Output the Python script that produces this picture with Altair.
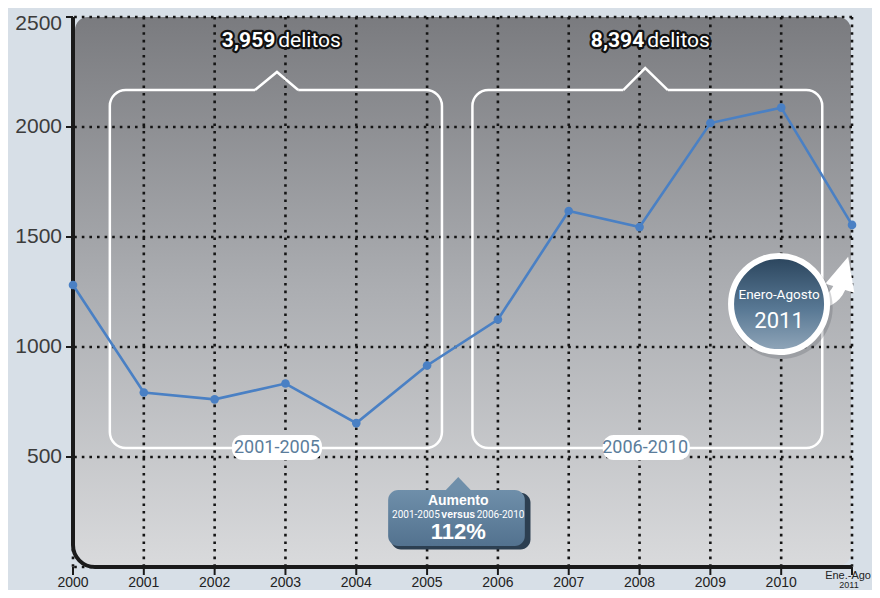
import altair as alt
import pandas as pd

# ---------------- data ----------------
years = [2000, 2001, 2002, 2003, 2004, 2005, 2006, 2007, 2008, 2009, 2010, 2011]
values = [1282, 793, 762, 834, 654, 916, 1125, 1618, 1545, 2018, 2088, 1555]
x_ticks = [2000, 2001, 2002, 2003, 2004, 2005, 2006, 2007, 2008, 2009, 2010, 2011]
x_labels = ["2000", "2001", "2002", "2003", "2004", "2005", "2006", "2007", "2008", "2009", "2010"]
last_label = ["Ene.-Ago", "2011"]
y_ticks = [500, 1000, 1500, 2000, 2500]
y_labels = ["500", "1000", "1500", "2000", "2500"]
grid_y = [0, 500, 1000, 1500, 2000, 2500]

# bracket annotations (data units)
br_x1 = [2000.52, 2005.64]
br_x2 = [2005.21, 2010.58]
br_top = [2168, 2168]
br_bot = [541, 541]
chev_left = [2002.57, 2007.77]
chev_peak_x = [2002.88, 2008.08]
chev_peak_y = [2250, 2268]
chev_right = [2003.18, 2008.40]
totals = ["3,959", "8,394"]
total_word = ["delitos", "delitos"]
period_labels = ["2001-2005", "2006-2010"]
lab_x1 = [2002.245, 2007.48]
lab_x2 = [2003.516, 2008.71]

W, H = 779, 550
XD = [2000, 2011]
YD = [0, 2500]
R_BR = 16


def px(v):
    return (v - XD[0]) / (XD[1] - XD[0]) * W


xs = alt.Scale(domain=XD, nice=False, zero=False)
ys = alt.Scale(domain=YD, nice=False, zero=False)

one = pd.DataFrame({"a": [0]})
bg = "#d7dfe7"
cond = "Roboto, Liberation Sans, sans-serif"
axis_font = "Liberation Sans, Arial, sans-serif"


def XQ(f):
    return alt.X(f, scale=xs, axis=None)


def YQ(f):
    return alt.Y(f, scale=ys, axis=None)


# ---------------- panel ----------------
panel_grad = {
    "gradient": "linear",
    "x1": 0, "y1": 0, "x2": 0, "y2": 1,
    "stops": [
        {"offset": 0, "color": "#7a7b7f"},
        {"offset": 0.5, "color": "#acaeb2"},
        {"offset": 1, "color": "#d9dadc"},
    ],
}
panel = alt.Chart(one).mark_rect(fill=panel_grad, cornerRadius=13, cornerRadiusBottomLeft=22).encode(
    x=alt.value(2), x2=alt.value(778), y=alt.value(0), y2=alt.value(549)
)

# ---------------- grid ----------------
dot = dict(color="#141414", strokeWidth=2.6, strokeDash=[2.6, 5], strokeCap="butt")
vgrid = alt.Chart(pd.DataFrame({"g": x_ticks})).mark_rule(**dot).encode(x=XQ("g:Q"))
hgrid = alt.Chart(pd.DataFrame({"g": grid_y})).mark_rule(**dot).encode(y=YQ("g:Q"))

# frame (left + rounded corner + bottom)
frame = alt.Chart(one).mark_rect(
    fillOpacity=0, stroke="#1a1a1a", strokeWidth=4, cornerRadiusBottomLeft=22,
    strokeDash=[0, W + H, 4000]
).encode(x=alt.value(0), x2=alt.value(W), y=alt.value(0), y2=alt.value(H))

# ---------------- axes (ticks + labels) ----------------
xt_df = pd.DataFrame({"v": x_ticks})
xl_df = pd.DataFrame({"v": x_ticks[:11], "t": x_labels})
yt_df = pd.DataFrame({"v": y_ticks, "t": y_labels})
x_tick_marks = alt.Chart(xt_df).mark_rule(color="#1a1a1a", strokeWidth=2).encode(
    x=XQ("v:Q"), y=alt.value(H), y2=alt.value(H + 8)
)
y_tick_marks = alt.Chart(yt_df).mark_rule(color="#1a1a1a", strokeWidth=2).encode(
    y=YQ("v:Q"), x=alt.value(-7), x2=alt.value(0)
)
x_tick_labels = alt.Chart(xl_df).mark_text(
    font=axis_font, fontSize=14, color="#222222", baseline="bottom"
).encode(x=XQ("v:Q"), y=alt.value(H + 23), text="t:N")
y_tick_labels = alt.Chart(yt_df.iloc[0:4]).mark_text(
    font=axis_font, fontSize=21, color="#3c3c3c", align="right", baseline="middle"
).encode(y=YQ("v:Q"), x=alt.value(-11), text="t:N")
y_top_label = alt.Chart(yt_df.iloc[4:5]).mark_text(
    font=axis_font, fontSize=21, color="#3c3c3c", align="right", baseline="middle", dy=7
).encode(y=YQ("v:Q"), x=alt.value(-11), text="t:N")

last_df = pd.DataFrame({"t": last_label})
last_t1 = alt.Chart(last_df.iloc[0:1]).mark_text(
    font=axis_font, fontSize=11, color="#222222", align="right", baseline="top"
).encode(x=alt.value(W + 19), y=alt.value(H + 3), text="t:N")
last_t2 = alt.Chart(last_df.iloc[1:2]).mark_text(
    font=axis_font, fontSize=9, color="#222222", baseline="bottom"
).encode(x=alt.value(W - 3), y=alt.value(H + 23), text="t:N")

# ---------------- brackets ----------------
bracket_layers = []
for i in range(2):
    d1 = px(chev_left[i]) - px(br_x1[i]) - R_BR
    gap = px(chev_right[i]) - px(chev_left[i])
    dfb = pd.DataFrame({"x1": [br_x1[i]], "x2": [br_x2[i]], "y1": [br_top[i]], "y2": [br_bot[i]]})
    bracket_layers.append(
        alt.Chart(dfb).mark_rect(
            fillOpacity=0, stroke="white", strokeWidth=2.5, cornerRadius=R_BR,
            strokeDash=[d1, gap, 5000]
        ).encode(x=XQ("x1:Q"), x2="x2:Q", y=YQ("y1:Q"), y2="y2:Q")
    )

chev_rows = []
for i in range(2):
    chev_rows += [
        {"g": i, "o": 0, "x": chev_left[i], "y": br_top[i]},
        {"g": i, "o": 1, "x": chev_peak_x[i], "y": chev_peak_y[i]},
        {"g": i, "o": 2, "x": chev_right[i], "y": br_top[i]},
    ]
chev = alt.Chart(pd.DataFrame(chev_rows)).mark_line(color="white", strokeWidth=2.5, strokeJoin="miter").encode(
    x=XQ("x:Q"), y=YQ("y:Q"), detail="g:N", order="o:Q",
)

# period label boxes
lab_df = pd.DataFrame({
    "x1": lab_x1, "x2": lab_x2, "y1": [600, 600], "y2": [486, 486],
    "cx": chev_peak_x, "cy": [541, 541], "t": period_labels,
})
lab_box = alt.Chart(lab_df).mark_rect(fill="white", cornerRadius=11).encode(
    x=XQ("x1:Q"), x2="x2:Q", y=YQ("y1:Q"), y2="y2:Q",
)
lab_text = alt.Chart(lab_df).mark_text(font=cond, fontSize=18, color="#5b7d9b", baseline="middle").encode(
    x=XQ("cx:Q"), y=YQ("cy:Q"), text="t:N"
)

# totals headings
tot_df = pd.DataFrame({"x": [2002.87, 2008.08], "y": [2391, 2391], "n": totals, "w": total_word})
outline = dict(stroke="#111", strokeWidth=4.5, strokeJoin="round", color="#111")


def heading(field, align, weight, dx, fill_kwargs):
    return alt.Chart(tot_df).mark_text(
        font=cond, fontSize=21, fontWeight=weight, align=align, baseline="middle", dx=dx, **fill_kwargs
    ).encode(x=XQ("x:Q"), y=YQ("y:Q"), text=f"{field}:N")


heads = [
    heading("n", "right", "bold", -1, outline),
    heading("w", "left", "normal", 2, outline),
    heading("n", "right", "bold", -1, {"color": "white"}),
    heading("w", "left", "normal", 2, {"color": "white"}),
]

# ---------------- data line ----------------
df = pd.DataFrame({"year": years, "value": values})
base = alt.Chart(df).encode(x=XQ("year:Q"), y=YQ("value:Q"))
line = base.mark_line(color="#4a80c4", strokeWidth=2.6)
pts = base.mark_circle(color="#4a80c4", size=75, opacity=1)

# ---------------- "Aumento" callout ----------------
au_grad = {
    "gradient": "linear", "x1": 0, "y1": 0, "x2": 0, "y2": 1,
    "stops": [{"offset": 0, "color": "#6f8faa"}, {"offset": 1, "color": "#53728f"}],
}
au_shadow = alt.Chart(pd.DataFrame({"x1": [2004.49], "x2": [2006.46], "y1": [338], "y2": [80]})).mark_rect(
    fill="#2c3f51", cornerRadius=10
).encode(x=XQ("x1:Q"), x2="x2:Q", y=YQ("y1:Q"), y2="y2:Q")
au_box = alt.Chart(pd.DataFrame({"x1": [2004.45], "x2": [2006.38], "y1": [350], "y2": [95]})).mark_rect(
    fill=au_grad, cornerRadius=10
).encode(x=XQ("x1:Q"), x2="x2:Q", y=YQ("y1:Q"), y2="y2:Q")
au_tip = alt.Chart(pd.DataFrame({"x": [2005.44], "y": [372]})).mark_point(
    shape="M0,-0.55 L1,0.5 L-1,0.5 Z", size=900, filled=True, fill="#6f8faa", opacity=1, strokeWidth=0
).encode(x=XQ("x:Q"), y=YQ("y:Q"))

au_txt = pd.DataFrame({
    "x": [2005.44, 2005.18, 2005.44, 2005.70, 2005.44],
    "y": [300, 236, 236, 236, 159],
    "t": ["Aumento", "2001-2005", "versus", "2006-2010", "112%"],
})


def au_text(idx, size, weight, align, font):
    return alt.Chart(au_txt.iloc[idx:idx + 1]).mark_text(
        font=font, fontSize=size, fontWeight=weight, align=align, baseline="middle", color="white"
    ).encode(x=XQ("x:Q"), y=YQ("y:Q"), text="t:N")


au_texts = [
    au_text(0, 14, "bold", "center", "Liberation Sans, sans-serif"),
    au_text(1, 10, "normal", "right", cond),
    au_text(2, 10.5, "bold", "center", "Liberation Sans, sans-serif"),
    au_text(3, 10, "normal", "left", cond),
    au_text(4, 22, "bold", "center", "Liberation Sans, sans-serif"),
]

# ---------------- "Enero-Agosto 2011" badge ----------------
circ_grad = {
    "gradient": "linear", "x1": 0, "y1": 0, "x2": 0, "y2": 1,
    "stops": [{"offset": 0, "color": "#2a445c"}, {"offset": 0.55, "color": "#587894"}, {"offset": 1, "color": "#92a7ba"}],
}
arrow = alt.Chart(pd.DataFrame({"x": [2010.80], "y": [1290]})).mark_point(
    shape="M-1.2,0.7 Q-0.45,0.65 -0.2,0.12 L-0.55,0.02 L0.45,-1.15 L0.72,0.42 L0.32,0.3 Q-0.05,1.15 -1.2,1.15 Z",
    size=2100, filled=True, fill="white", opacity=1, strokeWidth=0
).encode(x=XQ("x:Q"), y=YQ("y:Q"))
circ_shadow = alt.Chart(pd.DataFrame({"x": [2010.0], "y": [1180]})).mark_point(
    shape="circle", size=10600, filled=True, fill="#50545a", opacity=0.25, strokeWidth=0
).encode(x=XQ("x:Q"), y=YQ("y:Q"))
circ = alt.Chart(pd.DataFrame({"x": [2009.97], "y": [1195]})).mark_point(
    shape="circle", size=9216, filled=True, fill=circ_grad, stroke="white", strokeWidth=6, opacity=1
).encode(x=XQ("x:Q"), y=YQ("y:Q"))
badge_txt = pd.DataFrame({"x": [2009.97, 2009.97], "y": [1235, 1120], "t": ["Enero-Agosto", "2011"]})
badge_t1 = alt.Chart(badge_txt.iloc[0:1]).mark_text(font=cond, fontSize=13.5, color="white", baseline="middle").encode(
    x=XQ("x:Q"), y=YQ("y:Q"), text="t:N")
badge_t2 = alt.Chart(badge_txt.iloc[1:2]).mark_text(font=cond, fontSize=22, color="white", baseline="middle").encode(
    x=XQ("x:Q"), y=YQ("y:Q"), text="t:N")

chart = alt.layer(
    panel, vgrid, hgrid, frame,
    x_tick_marks, y_tick_marks, x_tick_labels, y_tick_labels, y_top_label,
    *bracket_layers, chev, lab_box, lab_text, *heads,
    line, pts,
    au_shadow, au_tip, au_box, *au_texts,
    arrow, circ_shadow, circ, badge_t1, badge_t2,
    last_t1, last_t2,
).properties(
    width=W, height=H, background=bg,
    autosize=alt.AutoSizeParams(type="none"),
    padding={"left": 65, "top": 9, "right": 20, "bottom": 23},
).configure_view(stroke=None)

chart.save("out.html", embed_options={"renderer": "svg", "actions": False})
